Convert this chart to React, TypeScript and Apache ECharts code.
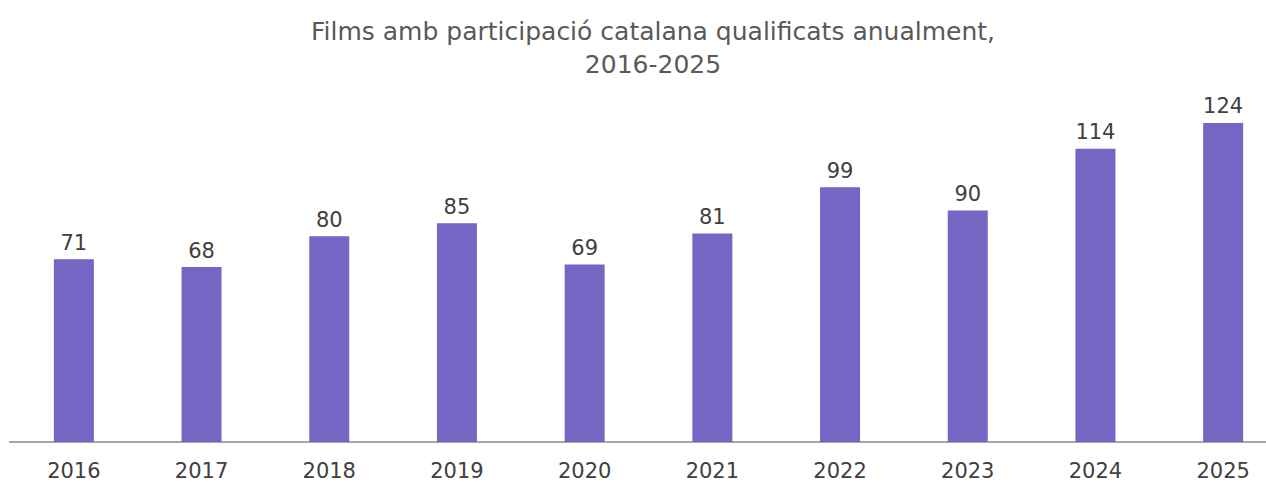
import React, { useEffect, useRef } from "react";
import * as echarts from "echarts";

const years = ["2016", "2017", "2018", "2019", "2020", "2021", "2022", "2023", "2024", "2025"];
const films = [71, 68, 80, 85, 69, 81, 99, 90, 114, 124];
const titleText = "Films amb participació catalana qualificats anualment,\n2016-2025";

const FONT = "DejaVu Sans";
const CHART_W = 1300;

export default function App() {
  const ref = useRef<HTMLDivElement>(null);
  useEffect(() => {
    if (!ref.current) return;
    const chart = echarts.init(ref.current, undefined, { renderer: "svg" });
    chart.setOption({
      animation: false,
      backgroundColor: "#ffffff",
      title: {
        text: titleText,
        left: 648,
        top: 10,
        textAlign: "center",
        textStyle: {
          fontFamily: FONT,
          fontSize: 25,
          fontWeight: "normal",
          color: "#595959",
          lineHeight: 33,
        },
      },
      grid: { left: 10, right: CHART_W - 1287, top: 56, bottom: 41, containLabel: false },
      xAxis: {
        type: "category",
        data: years,
        axisLine: { show: true, lineStyle: { color: "#a6a6a6", width: 2 } },
        axisTick: { show: false },
        axisLabel: {
          fontFamily: FONT,
          fontSize: 21,
          color: "#404040",
          margin: 18,
        },
      },
      yAxis: {
        type: "value",
        min: 0,
        max: 150,
        show: false,
        splitLine: { show: false },
      },
      series: [
        {
          type: "bar",
          data: films,
          barWidth: 40,
          itemStyle: { color: "#7566C4" },
          label: {
            show: true,
            position: "top",
            distance: 6,
            fontFamily: FONT,
            fontSize: 21,
            color: "#404040",
          },
        },
      ],
    });
    return () => chart.dispose();
  }, []);
  return (
    <div style={{ position: "absolute", left: 0, top: 0, width: 1266, height: 483, overflow: "hidden", background: "#fff" }}>
      <div ref={ref} style={{ width: CHART_W, height: 483 }} />
    </div>
  );
}
